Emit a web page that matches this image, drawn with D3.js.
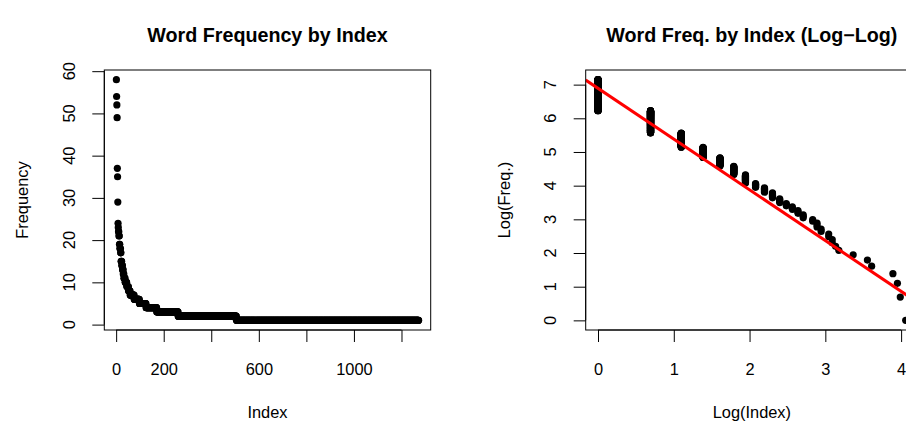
<!DOCTYPE html>
<html>
<head>
<meta charset="utf-8">
<script src="https://cdn.jsdelivr.net/npm/d3@7"></script>
<style>
  html, body { margin: 0; padding: 0; background: #fff; }
  svg { display: block; }
  text { font-family: "Liberation Sans", Arial, Helvetica, sans-serif; fill: #000; }
</style>
</head>
<body>
<svg id="chart" width="906" height="425"></svg>
<script>
// Word frequency table: each distinct frequency and how many words share it,
// listed from the most frequent word downwards (rank order).
const freqLevels = [58, 54, 52, 49, 37, 35, 29, 24, 23, 22, 21, 19, 18, 17, 15, 14, 13, 12, 11, 10, 9, 8, 7, 6, 5, 4, 3, 2, 1];
const wordCounts = [1, 1, 1, 1, 1, 1, 1, 1, 1, 2, 2, 2, 3, 2, 3, 3, 3, 3, 5, 7, 7, 7, 17, 22, 28, 45, 90, 245, 767];

// Tick values and the labels that are printed
const leftXTicks = [0, 200, 400, 600, 800, 1000, 1200];
const leftXLabels = ["0", "200", "", "600", "", "1000", ""];
const leftYTicks = [0, 10, 20, 30, 40, 50, 60];
const rightXTicks = [0, 1, 2, 3, 4];
const rightYTicks = [0, 1, 2, 3, 4, 5, 6, 7];

// Fitted line for the log-log panel: intercept, slope
const fitCoef = [6.89, -1.507];

// Expand the table into one frequency per word, in rank order
const freq = [];
freqLevels.forEach((f, i) => { for (let k = 0; k < wordCounts[i]; k++) freq.push(f); });
const points = freq.map((f, i) => ({ index: i + 1, freq: f }));

const svg = d3.select("#chart");
const FONT = 16.4, TITLE = 19.7, TICK = 12, R = 3.6;

// R-style 4% padded domain
function padded(lo, hi) { const d = (hi - lo) * 0.04; return [lo - d, hi + d]; }

function panel(opt) {
  const g = svg.append("g");
  const { x, y, box } = opt;

  // clip to the plot region
  const clipId = "clip-" + opt.id;
  g.append("clipPath").attr("id", clipId).append("rect")
    .attr("x", box.l).attr("y", box.t).attr("width", box.r - box.l).attr("height", box.b - box.t);

  const plot = g.append("g").attr("clip-path", `url(#${clipId})`);
  plot.selectAll("circle").data(opt.data).join("circle")
    .attr("cx", d => x(opt.xv(d))).attr("cy", d => y(opt.yv(d)))
    .attr("r", R).attr("fill", "#000");

  if (opt.line) {
    const [x0, x1] = x.domain();
    plot.append("line")
      .attr("x1", x(x0)).attr("y1", y(opt.line[0] + opt.line[1] * x0))
      .attr("x2", x(x1)).attr("y2", y(opt.line[0] + opt.line[1] * x1))
      .attr("stroke", "#ff0000").attr("stroke-width", 3);
  }

  // bottom axis
  const ax = g.append("g").attr("transform", `translate(0,${box.b})`)
    .call(d3.axisBottom(x).tickValues(opt.xTicks).tickSize(TICK).tickSizeOuter(0)
      .tickPadding(21).tickFormat((d, i) => opt.xLabels ? opt.xLabels[i] : String(d)));
  ax.select(".domain").remove();
  ax.append("line").attr("x1", x(opt.xTicks[0])).attr("x2", x(opt.xTicks[opt.xTicks.length - 1]))
    .attr("stroke", "#000");
  ax.selectAll("line").attr("stroke", "#000");
  ax.selectAll("text").attr("font-size", FONT).attr("font-family", null).style("fill", "#000");

  // left axis with labels parallel to the axis
  const ay = g.append("g").attr("transform", `translate(${box.l},0)`)
    .call(d3.axisLeft(y).tickValues(opt.yTicks).tickSize(TICK).tickSizeOuter(0).tickFormat(""));
  ay.select(".domain").remove();
  ay.append("line").attr("y1", y(opt.yTicks[0])).attr("y2", y(opt.yTicks[opt.yTicks.length - 1]))
    .attr("stroke", "#000");
  ay.selectAll("line").attr("stroke", "#000");
  g.selectAll(".ylab").data(opt.yTicks).join("text")
    .attr("class", "ylab")
    .attr("transform", d => `translate(${box.l - 29.5},${y(d)}) rotate(-90)`)
    .attr("text-anchor", "middle").attr("font-size", FONT)
    .text(d => d);

  // frame
  g.append("rect").attr("x", box.l).attr("y", box.t)
    .attr("width", box.r - box.l).attr("height", box.b - box.t)
    .attr("fill", "none").attr("stroke", "#000").attr("stroke-width", 1);

  const cx = (box.l + box.r) / 2, cy = (box.t + box.b) / 2;
  g.append("text").attr("x", cx).attr("y", 42).attr("text-anchor", "middle")
    .attr("font-size", TITLE).attr("font-weight", "bold").text(opt.title);
  g.append("text").attr("x", cx).attr("y", 418).attr("text-anchor", "middle")
    .attr("font-size", FONT).text(opt.xTitle);
  g.append("text").attr("transform", `translate(${box.l - 76},${cy}) rotate(-90)`)
    .attr("text-anchor", "middle").attr("font-size", FONT).text(opt.yTitle);
}

// Left: raw frequency by rank
const boxL = { l: 104.3, r: 430.7, t: 70, b: 330 };
panel({
  id: "left", box: boxL, data: points,
  x: d3.scaleLinear().domain(padded(1, d3.max(points, d => d.index))).range([boxL.l, boxL.r]),
  y: d3.scaleLinear().domain(padded(d3.min(freq), d3.max(freq))).range([boxL.b, boxL.t]),
  xv: d => d.index, yv: d => d.freq,
  xTicks: leftXTicks, xLabels: leftXLabels, yTicks: leftYTicks,
  title: "Word Frequency by Index", xTitle: "Index", yTitle: "Frequency"
});

// Right: log-log view with fitted line
const boxR = { l: 585.7, r: 918, t: 70, b: 330 };
const logPts = points.map(p => ({ lx: Math.log(p.freq), ly: Math.log(p.index) }));
panel({
  id: "right", box: boxR, data: logPts,
  x: d3.scaleLinear().domain(padded(d3.min(logPts, d => d.lx), d3.max(logPts, d => d.lx))).range([boxR.l, boxR.r]),
  y: d3.scaleLinear().domain(padded(d3.min(logPts, d => d.ly), d3.max(logPts, d => d.ly))).range([boxR.b, boxR.t]),
  xv: d => d.lx, yv: d => d.ly, line: fitCoef,
  xTicks: rightXTicks, yTicks: rightYTicks,
  title: "Word Freq. by Index (Log\u2212Log)", xTitle: "Log(Index)", yTitle: "Log(Freq.)"
});
</script>
</body>
</html>
